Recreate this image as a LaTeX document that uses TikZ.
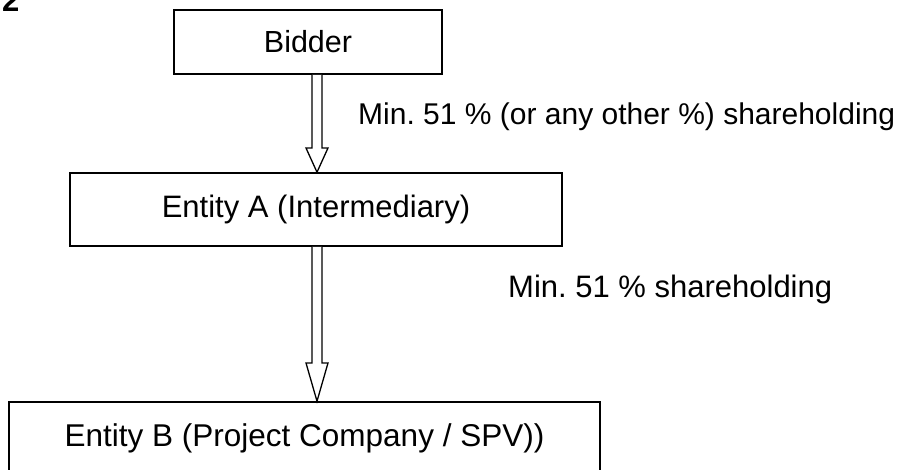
\documentclass[tikz,border=0pt]{standalone}
\usepackage{fontspec}
\setmainfont{Liberation Sans}
\frenchspacing
\begin{document}
\begin{tikzpicture}[x=1pt,y=-1pt,
  boxnode/.style={draw=black,line width=1.6pt,fill=white,inner sep=0pt},
  lbl/.style={inner sep=0pt},
  hollow/.style={draw=black,line width=1.3pt,fill=white,line join=miter}]
\clip (0,0) rectangle (902,469);
\fill[white] (0,0) rectangle (902,469);
\node[lbl,anchor=base west,font=\fontsize{31}{36}\selectfont\bfseries] (num) at (2,11) {2};
\node[boxnode,minimum width=268pt,minimum height=64pt,font=\fontsize{30.5}{36}\selectfont] (bidder) at (308,42) {Bidder};
\node[boxnode,minimum width=492pt,minimum height=73pt,font=\fontsize{31}{36}\selectfont] (entA) at (316,209.5) {Entity A (Intermediary)};
\node[boxnode,minimum width=591pt,minimum height=73pt,font=\fontsize{31.5}{37}\selectfont] (entB) at (304.5,438.5) {Entity B (Project Company / SPV))};
\coordinate (h1) at (317,148);
\coordinate (h2) at (317,363);
% arrow 1
\draw[hollow] ([xshift=-5pt]bidder.south -| h1) -- ([xshift=-5pt]h1) -- ([xshift=-11pt]h1) -- (entA.north -| h1) -- ([xshift=11pt]h1) -- ([xshift=5pt]h1) -- ([xshift=5pt]bidder.south -| h1);
% arrow 2
\draw[hollow] ([xshift=-5pt]entA.south -| h2) -- ([xshift=-5pt]h2) -- ([xshift=-11pt]h2) -- (entB.north -| h2) -- ([xshift=11pt]h2) -- ([xshift=5pt]h2) -- ([xshift=5pt]entA.south -| h2);
\node[lbl,anchor=base west,font=\fontsize{30}{36}\selectfont] (l1) at (358,124) {Min. 51 \% (or any other \%) shareholding};
\node[lbl,anchor=base west,font=\fontsize{31}{36}\selectfont] (l2) at (508,297) {Min. 51 \% shareholding};
\end{tikzpicture}
\end{document}
